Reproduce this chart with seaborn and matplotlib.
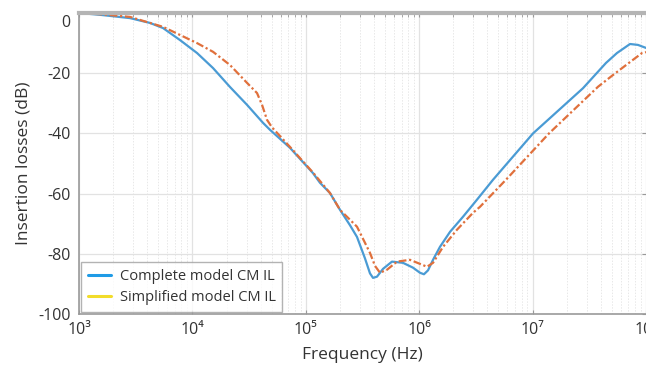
import numpy as np
import pandas as pd
import matplotlib
matplotlib.use("Agg")
import matplotlib.pyplot as plt
import matplotlib.transforms as mtransforms
from matplotlib.lines import Line2D
from matplotlib.ticker import LogLocator, NullFormatter, FixedLocator, FixedFormatter
import seaborn as sns

# ---- data ----
freq_complete = [1000, 1531, 2818, 4227, 5508, 7780, 10990, 15210, 21480, 30300,
                 41960, 48310, 72570, 115700, 133300, 163300, 200300, 245200, 282800,
                 332400, 368100, 391500, 424300, 479700, 575400, 719300, 881000,
                 1016000, 1101000, 1196000, 1324000, 1524000, 1870000, 2433000,
                 3236000, 4477000, 10090000, 27800000, 44360000, 55460000,
                 72270000, 84930000, 100000000]
il_complete = [0.0, -0.6, -1.7, -3.3, -5.0, -9.0, -13.3, -18.3, -24.6, -30.5,
               -36.5, -38.8, -44.8, -53.2, -56.4, -59.8, -65.4, -70.5, -74.4,
               -81.5, -86.5, -88.0, -87.6, -85.0, -82.6, -83.0, -84.6,
               -86.3, -86.8, -85.5, -82.0, -77.7, -72.7, -67.7,
               -62.0, -55.4, -40.0, -25.0, -16.6, -13.3,
               -10.3, -10.6, -11.6]

freq_simplified = [1000, 1531, 2818, 4227, 5508, 7780, 10990, 15210, 21480, 30300,
                   37150, 41110, 45500, 50350, 72570, 115700, 163300, 200300, 282800,
                   368100, 407400, 451000, 520000, 636800, 829100, 1172000, 1324000,
                   1622000, 2153000, 2979000, 3434000, 5821000, 13960000,
                   37760000, 51170000, 72270000, 92250000, 100000000]
il_simplified = [0.0, -0.4, -1.3, -3.3, -4.6, -7.3, -10.0, -12.9, -17.3, -23.2,
                 -26.6, -30.5, -35.5, -38.0, -44.5, -53.0, -59.8, -65.4, -71.0,
                 -79.7, -84.0, -86.3, -85.3, -82.6, -82.0, -84.3, -83.0,
                 -77.7, -72.0, -66.4, -64.4, -55.4, -40.0,
                 -24.5, -20.6, -16.3, -13.3, -13.0]

series_names = ["Complete model CM IL", "Simplified model CM IL"]
y_ticks = [0, -20, -40, -60, -80, -100]
x_ticks = [1e3, 1e4, 1e5, 1e6, 1e7, 1e8]
x_tick_labels = ["10³", "10⁴", "10⁵", "10⁶", "10⁷", "10⁸"]

df = pd.concat([
    pd.DataFrame({"freq": freq_complete, "il": il_complete, "model": series_names[0]}),
    pd.DataFrame({"freq": freq_simplified, "il": il_simplified, "model": series_names[1]}),
], ignore_index=True)

sns.set_theme(style="white")
plt.rcParams["font.family"] = ["Open Sans", "DejaVu Sans"]

fig = plt.figure(figsize=(6.46, 3.67), dpi=100)
ax = fig.add_axes([79 / 646, 53 / 367, 567 / 646, 301 / 367])

line_colors = {series_names[0]: "#4a9bd4", series_names[1]: "#e0703c"}
sns.lineplot(data=df, x="freq", y="il", hue="model", style="model",
             palette=line_colors,
             dashes={series_names[0]: "", series_names[1]: (3.5, 1.2, 1, 1.2)},
             linewidth=1.6, ax=ax, legend=False, sort=False, estimator=None)

ax.set_xscale("log")
ax.set_xlim(1e3, 1e8)
ax.set_ylim(-100, 0)

ax.xaxis.set_major_locator(FixedLocator(x_ticks))
ax.xaxis.set_major_formatter(FixedFormatter(x_tick_labels))
ax.xaxis.set_minor_locator(LogLocator(base=10, subs=np.arange(2, 10), numticks=20))
ax.xaxis.set_minor_formatter(NullFormatter())
ax.set_yticks(y_ticks)
ax.set_yticklabels([str(v) for v in y_ticks])

ax.grid(which="major", axis="both", color="#e2e2e2", linewidth=0.9)
ax.grid(which="minor", axis="x", color="#e8e8e8", linewidth=0.7, linestyle=(0, (1.5, 1.5)))

ax.tick_params(axis="both", which="major", direction="in", length=3, width=0.8,
               color="#999999", labelsize=11.5, labelcolor="#333333",
               top=True, right=True, bottom=True, left=False)
ax.tick_params(axis="x", which="minor", direction="in", length=3, width=0.6,
               color="#999999", top=True, bottom=False)
ax.tick_params(axis="x", which="major", pad=6)
ax.tick_params(axis="y", which="major", pad=6)

for side in ["left", "bottom"]:
    ax.spines[side].set_color("#9a9a9a")
    ax.spines[side].set_linewidth(1.2)
ax.spines["top"].set_color("#b4b4b4")
ax.spines["top"].set_linewidth(3)
ax.spines["right"].set_visible(False)

# shift the "0" label down a bit like the reference
offset = mtransforms.ScaledTranslation(0, -8 / 100, fig.dpi_scale_trans)
for lbl in ax.get_yticklabels():
    if lbl.get_text() == "0":
        lbl.set_transform(lbl.get_transform() + offset)

ax.set_xlabel("Frequency (Hz)", fontsize=12.5, color="#333333", labelpad=6)
ax.set_ylabel("Insertion losses (dB)", fontsize=12.5, color="#333333", labelpad=5)

handles = [Line2D([], [], color="#1f9be6", linewidth=2.2),
           Line2D([], [], color="#f2dc2a", linewidth=2.2)]
leg = ax.legend(handles, series_names, loc="lower left", fontsize=10.5,
                frameon=True, fancybox=False, handlelength=1.6, handletextpad=0.6,
                borderpad=0.45, labelspacing=0.45, borderaxespad=0.15)
leg.get_frame().set_edgecolor("#a0a0a0")
leg.get_frame().set_linewidth(1.0)
for t in leg.get_texts():
    t.set_color("#333333")

fig.savefig("out.png", dpi=100)
